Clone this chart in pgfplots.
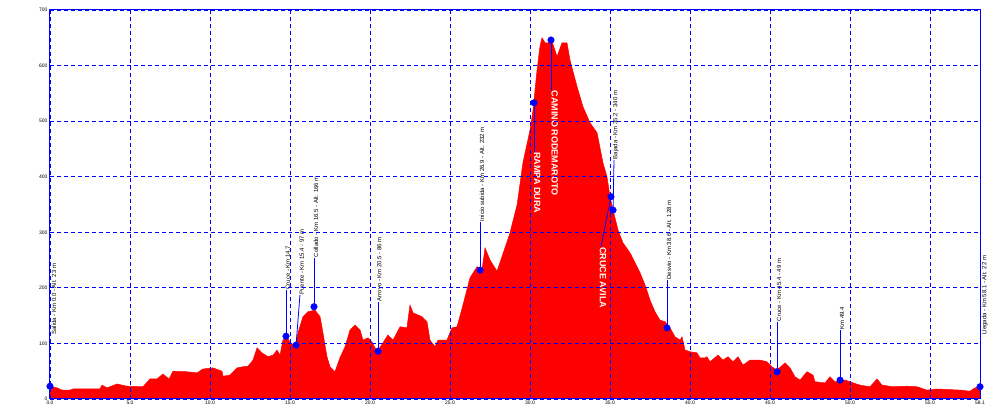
\documentclass[border=0pt]{standalone}
\usepackage{pgfplots}
\pgfplotsset{compat=1.18}
\usepackage{fontspec}
\setmainfont{Liberation Sans}
\begin{document}
\begin{tikzpicture}
\begin{axis}[
  scale only axis, width=930pt, height=389pt,
  xmin=0, xmax=58.125, ymin=0, ymax=700,
  xtick={0,5,...,55}, extra x ticks={58.125},
  ytick={0,100,...,700},
  grid=major,
  major grid style={blue, line width=0.8pt, dash pattern=on 4pt off 3pt},
  axis line style={blue, line width=1pt},
  tick style={draw=none},
  ticklabel style={font=\fontsize{5}{5}\selectfont},
  /pgf/number format/assume math mode=true,
  xticklabel style={/pgf/number format/fixed, /pgf/number format/precision=1, /pgf/number format/fixed zerofill, yshift=2pt},
  yticklabel style={xshift=1pt},
  axis on top,
  clip=false,
]
\addplot[fill=red, draw=red, line width=0.5pt] table {
x y
0 23
0.12 22
0.44 20
0.75 16
1.25 16
1.44 18
3.12 18
3.25 25
3.56 20
4.19 27
4.81 23
5.81 22
6.25 36
6.69 36
7.06 45
7.44 36
7.69 50
8.56 49
9.19 47
9.56 54
10.19 56
10.75 50
10.81 41
11.25 43
11.69 56
12.06 58
12.38 59
12.69 70
12.94 92
13.25 83
13.62 76
13.94 79
14.19 88
14.38 79
14.56 106
14.81 110
15.0 103
15.31 94
15.5 119
15.81 148
16.12 157
16.56 160
16.88 148
17.06 119
17.31 76
17.5 58
17.81 49
18.12 74
18.44 94
18.75 124
19.06 133
19.38 124
19.56 106
19.88 110
20.12 103
20.44 85
20.81 101
21.12 115
21.44 106
21.88 130
22.31 128
22.5 169
22.69 155
23.25 148
23.56 139
23.75 106
24.06 94
24.25 106
24.81 106
25.12 128
25.44 130
25.81 169
26.25 218
26.69 238
27.0 232
27.19 272
27.5 250
27.94 230
28.25 256
28.75 299
29.19 349
29.56 425
30.0 484
30.19 520
30.44 592
30.62 634
30.75 650
30.94 641
31.12 641
31.38 643
31.69 616
32.0 641
32.31 641
32.5 610
32.94 562
33.31 526
33.75 497
34.19 479
34.56 425
34.81 400
35.0 364
35.19 340
35.5 304
35.81 281
36.25 263
36.69 238
36.88 227
37.19 205
37.5 178
37.81 157
38.12 142
38.44 139
38.75 128
39.06 112
39.38 106
39.5 112
39.69 88
40.0 85
40.44 83
40.62 74
40.94 74
41.06 76
41.25 67
41.75 79
42.06 70
42.38 76
42.69 67
43.0 76
43.31 61
43.75 70
44.38 70
44.81 67
45.12 58
45.44 52
45.94 65
46.25 56
46.56 40
46.88 34
47.31 49
47.69 43
47.81 31
48.44 29
48.75 40
49.06 31
49.69 34
50.0 31
50.62 25
51.25 22
51.69 36
52.0 25
52.69 22
53.56 23
54.19 22
54.81 16
55.44 18
56.88 16
57.5 14
57.81 20
58.125 22
} \closedcycle;
% leader lines
\addplot[blue, line width=0.8pt] coordinates {(14.75,113) (14.75,196)};
\addplot[blue, line width=0.8pt] coordinates {(15.38,97) (15.62,187)};
\addplot[blue, line width=0.8pt] coordinates {(16.5,166) (16.5,254)};
\addplot[blue, line width=0.8pt] coordinates {(20.5,86) (20.5,175)};
\addplot[blue, line width=0.8pt] coordinates {(26.88,232) (26.88,319)};
\addplot[blue, line width=0.8pt] coordinates {(30.25,533) (30.25,445)};
\addplot[blue, line width=0.8pt] coordinates {(31.31,646) (31.31,556)};
\addplot[blue, line width=0.8pt] coordinates {(35.06,364) (34.44,274)};
\addplot[blue, line width=0.8pt] coordinates {(35.19,340) (35.25,430)};
\addplot[blue, line width=0.8pt] coordinates {(38.56,128) (38.56,214)};
\addplot[blue, line width=0.8pt] coordinates {(45.44,49) (45.44,139)};
\addplot[blue, line width=0.8pt] coordinates {(49.38,34) (49.38,124)};
\addplot[blue, line width=0.8pt] coordinates {(58.125,22) (58.125,115)};
% markers
\addplot[only marks, mark=*, mark size=3.3pt, blue] coordinates {
(0,23) (14.75,113) (15.38,97) (16.5,166) (20.5,86) (26.88,232)
(30.25,533) (31.31,646) (35.06,364) (35.19,340) (38.56,128)
(45.44,49) (49.38,34) (58.125,22)};
% labels (black, above)
\tikzset{lab/.style={rotate=90, anchor=west, inner sep=0.5pt, font=\fontsize{6}{6}\selectfont, black},
         wlab/.style={rotate=-90, anchor=west, inner sep=0.5pt, font=\fontsize{9}{9}\selectfont\bfseries, white}}
\node[lab] at (axis cs:0.25,115) {Salida - Km 0.0 - Alt. 23 m};
\node[lab] at (axis cs:14.87,196) {Cruce - Km 14.7};
\node[lab] at (axis cs:15.74,187) {Puente - Km 15.4 - 97 m};
\node[lab] at (axis cs:16.62,254) {Collado - Km 16.5 - Alt. 166 m};
\node[lab] at (axis cs:20.62,175) {Arroyo - Km 20.5 - 86 m};
\node[lab] at (axis cs:27.0,319) {Inicio subida - Km 26.9 - Alt. 232 m};
\node[lab] at (axis cs:35.37,430) {Bajada - Km 35.2 - 340 m};
\node[lab] at (axis cs:38.68,214) {Desvio - Km 38.6 - Alt. 128 m};
\node[lab] at (axis cs:45.56,139) {Cruce - Km 45.4 - 49 m};
\node[lab] at (axis cs:49.50,124) {Km 49.4};
\node[lab] at (axis cs:58.43,115) {Llegada - Km 58.1 - Alt. 22 m};
% labels (white, inside)
\node[wlab] at (axis cs:30.45,445) {RAMPA DURA};
\node[wlab] at (axis cs:31.55,556) {CAMINO RODEMAROTO};
\node[wlab] at (axis cs:34.56,274) {CRUCE AVILA};
\end{axis}
\pgfresetboundingbox
\path ([shift={(-50pt,-20pt)}]current axis.south west) rectangle ([shift={(25pt,10pt)}]current axis.north east);
\end{tikzpicture}
\end{document}
